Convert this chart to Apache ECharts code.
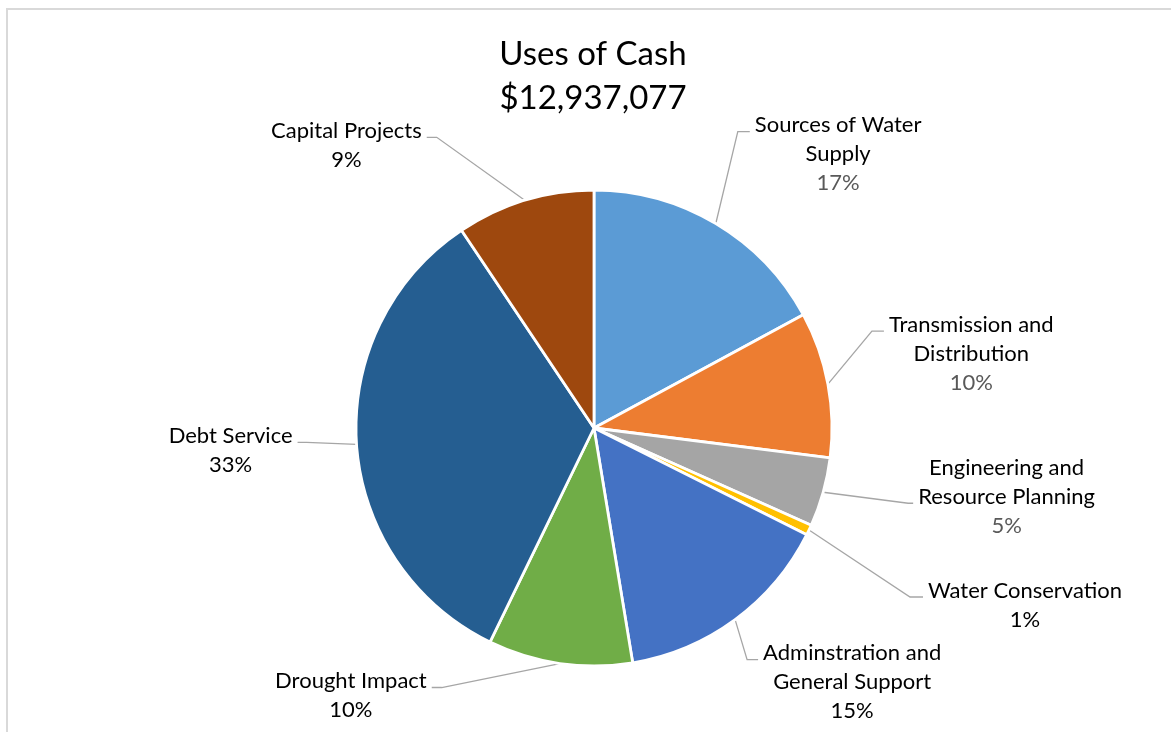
<!DOCTYPE html>
<html>
<head>
<meta charset="utf-8">
<script src="https://cdn.jsdelivr.net/npm/echarts@6/dist/echarts.min.js"></script>
<style>
  html, body { margin: 0; padding: 0; background: #fff; }
  #chart { width: 1171px; height: 732px; }
</style>
</head>
<body>
<div id="chart"></div>
<script>
// Category names (line breaks as they appear in the slice labels)
const categories = [
  'Sources of Water\nSupply',
  'Transmission and\nDistribution',
  'Engineering and\nResource Planning',
  'Water Conservation',
  'Adminstration and\nGeneral Support',
  'Drought Impact',
  'Debt Service',
  'Capital Projects'
];

// Cash used by each category, in dollars
const amounts = [2212240, 1280771, 608043, 90560, 1940562, 1267834, 4320984, 1216083];

const titleText = 'Uses of Cash';

// Slice fills, clockwise from twelve o'clock
const sliceColors = ['#5B9BD5', '#ED7D31', '#A5A5A5', '#FFC000', '#4472C4', '#70AD47', '#255E91', '#9E480E'];

// Leader lines: elbow offset from the slice edge, horizontal tail length
// (negative = label on the left), which text line the leader meets, percent colour
const leaders = [
  { elbow: [22, -92],  tail: 12,  line: 0, pct: 'pg' },
  { elbow: [44, -53],  tail: 12,  line: 0, pct: 'pg' },
  { elbow: [85, 11],   tail: 5,   line: 1, pct: 'pg' },
  { elbow: [101, 67],  tail: 13,  line: 0, pct: 'pb' },
  { elbow: [12, 40],   tail: 11,  line: 0, pct: 'pb' },
  { elbow: [-118, 24], tail: -10, line: 0, pct: 'pb' },
  { elbow: [-50, -2],  tail: -9,  line: 0, pct: 'pb' },
  { elbow: [-88, -63], tail: -10, line: 0, pct: 'pb' }
];

const FONT = 'Lato, "Open Sans", sans-serif';
const LABEL_SIZE = 22;
const LINE_H = 29;
const TEXT_GAP = 5;
const BASELINE = 21;

const total = amounts.reduce((a, b) => a + b, 0);
const totalText = '$' + total.toLocaleString('en-US');

const chart = echarts.init(document.getElementById('chart'), null, { renderer: 'canvas' });

const richStyle = (color) => ({
  fontFamily: FONT, fontSize: LABEL_SIZE, lineHeight: LINE_H, color: color, align: 'center'
});

chart.setOption({
  animation: false,
  backgroundColor: '#ffffff',
  title: {
    text: titleText + '\n' + totalText,
    left: 593,
    top: 32,
    textAlign: 'center',
    padding: 0,
    textStyle: {
      fontFamily: FONT,
      fontSize: 33,
      fontWeight: 'normal',
      color: '#000000',
      lineHeight: 44
    }
  },
  graphic: [{
    type: 'rect',
    silent: true,
    shape: { x: 7, y: 9, width: 1200, height: 800 },
    style: { fill: 'none', stroke: '#D9D9D9', lineWidth: 2 }
  }],
  series: [{
    type: 'pie',
    center: [594, 428],
    radius: 238,
    startAngle: 90,
    clockwise: true,
    percentPrecision: 0,
    avoidLabelOverlap: false,
    emphasis: { disabled: true },
    itemStyle: { borderColor: '#ffffff', borderWidth: 2.8 },
    data: categories.map((name, i) => ({
      name: name,
      value: amounts[i],
      itemStyle: { color: sliceColors[i] }
    })),
    label: {
      show: true,
      position: 'outside',
      fontFamily: FONT,
      formatter: function (p) {
        const lines = p.name.split('\n').map(s => '{n|' + s + '}');
        lines.push('{' + leaders[p.dataIndex].pct + '|' + p.percent + '%}');
        return lines.join('\n');
      },
      rich: {
        n:  richStyle('#000000'),
        pg: richStyle('#595959'),
        pb: richStyle('#000000')
      }
    },
    labelLine: {
      show: true,
      length: 10,
      length2: 10,
      lineStyle: { color: '#A6A6A6', width: 1.3 }
    },
    labelLayout: function (p) {
      const L = leaders[p.dataIndex];
      const pts = p.labelLinePoints;
      if (!pts || !pts.length) return {};
      const s = pts[0];
      const e = [s[0] + L.elbow[0], s[1] + L.elbow[1]];
      const t = [e[0] + L.tail, e[1]];
      const right = L.tail > 0;
      return {
        x: t[0] + (right ? TEXT_GAP : -TEXT_GAP),
        y: t[1] - BASELINE - L.line * LINE_H,
        align: right ? 'left' : 'right',
        verticalAlign: 'top',
        labelLinePoints: [s, e, t]
      };
    }
  }]
});
</script>
</body>
</html>
